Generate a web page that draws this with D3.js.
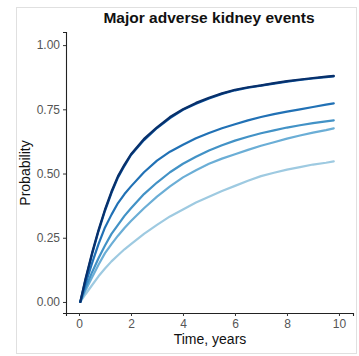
<!DOCTYPE html>
<html>
<head>
<meta charset="utf-8">
<script src="https://cdn.jsdelivr.net/npm/d3@7"></script>
<style>
  body { margin: 0; background: #fff; }
  svg { display: block; font-family: "Liberation Sans", Arial, sans-serif; }
</style>
</head>
<body>
<div id="chart"></div>
<script>
// time points, years
var times = [0.05, 0.25, 0.5, 0.75, 1, 1.25, 1.5, 1.75, 2, 2.5, 3, 3.5, 4, 4.5, 5, 5.5, 6, 6.5, 7, 7.5, 8, 8.5, 9, 9.5, 9.8];

// cumulative probability per group
var group1 = [0, 0.09, 0.19, 0.28, 0.36, 0.43, 0.49, 0.535, 0.575, 0.635, 0.68, 0.72, 0.75, 0.775, 0.795, 0.812, 0.826, 0.836, 0.843, 0.852, 0.86, 0.866, 0.872, 0.877, 0.88];
var group2 = [0, 0.085, 0.185, 0.275, 0.355, 0.425, 0.485, 0.53, 0.572, 0.63, 0.677, 0.716, 0.748, 0.772, 0.792, 0.81, 0.824, 0.834, 0.842, 0.85, 0.858, 0.864, 0.87, 0.875, 0.878];
var group3 = [0, 0.07, 0.15, 0.225, 0.29, 0.34, 0.385, 0.42, 0.45, 0.505, 0.55, 0.585, 0.612, 0.637, 0.658, 0.676, 0.692, 0.707, 0.72, 0.731, 0.741, 0.75, 0.759, 0.768, 0.773];
var group4 = [0, 0.055, 0.115, 0.17, 0.22, 0.265, 0.30, 0.335, 0.365, 0.42, 0.465, 0.505, 0.538, 0.565, 0.59, 0.61, 0.628, 0.643, 0.657, 0.668, 0.679, 0.688, 0.696, 0.703, 0.707];
var group5 = [0, 0.045, 0.095, 0.145, 0.19, 0.225, 0.258, 0.288, 0.315, 0.365, 0.41, 0.45, 0.485, 0.513, 0.538, 0.558, 0.575, 0.592, 0.608, 0.622, 0.636, 0.648, 0.659, 0.669, 0.676];
var group6 = [0, 0.03, 0.065, 0.1, 0.13, 0.158, 0.182, 0.205, 0.225, 0.265, 0.3, 0.333, 0.36, 0.387, 0.41, 0.432, 0.452, 0.472, 0.49, 0.503, 0.515, 0.525, 0.535, 0.542, 0.547];

var seriesList = [group6, group5, group4, group3, group2, group1];
var colors = ["#9ecae1", "#6baed6", "#4292c6", "#2171b5", "#08519c", "#08306b"];

var xTicks = [0, 2, 4, 6, 8, 10];
var yTicks = [0, 0.25, 0.5, 0.75, 1];

var W = 359, H = 356;

var svg = d3.select("#chart").append("svg")
  .attr("width", W)
  .attr("height", H);

// light frame around the figure
svg.append("rect")
  .attr("x", 16.5).attr("y", 7.5)
  .attr("width", 340).attr("height", 346)
  .attr("fill", "none")
  .attr("stroke", "#e0e0e0");

var x = d3.scaleLinear().domain([-0.5, 10.54]).range([66, 353]);
var y = d3.scaleLinear().domain([-0.043, 1.051]).range([313, 32]);

// axes
var xAxis = svg.append("g")
  .attr("transform", "translate(0,313)")
  .call(d3.axisBottom(x).tickValues(xTicks).tickSize(3).tickPadding(3).tickFormat(d3.format("d")));

var yAxis = svg.append("g")
  .attr("transform", "translate(66,0)")
  .call(d3.axisLeft(y).tickValues(yTicks).tickSize(3).tickPadding(3).tickFormat(d3.format(".2f")));

[xAxis, yAxis].forEach(function(a) {
  a.select(".domain").attr("stroke", "#222").attr("stroke-width", 1.1);
  a.selectAll(".tick line").attr("stroke", "#333");
  a.selectAll(".tick text")
    .attr("fill", "#555")
    .style("font-size", "12px")
    .style("font-family", "'Liberation Sans', Arial, sans-serif");
});

// lines
var line = d3.line()
  .x(function(d, i) { return x(times[i]); })
  .y(function(d) { return y(d); });

svg.append("g").selectAll("path")
  .data(seriesList)
  .enter()
  .append("path")
  .attr("d", line)
  .attr("fill", "none")
  .attr("stroke", function(d, i) { return colors[i]; })
  .attr("stroke-width", 2.2)
  .attr("stroke-linejoin", "round")
  .attr("stroke-linecap", "round");

// title and axis labels
svg.append("text")
  .attr("x", 209).attr("y", 23)
  .attr("text-anchor", "middle")
  .style("font-size", "15.5px")
  .style("font-weight", "bold")
  .attr("fill", "#111")
  .text("Major adverse kidney events");

svg.append("text")
  .attr("x", 210).attr("y", 344)
  .attr("text-anchor", "middle")
  .style("font-size", "14px")
  .attr("fill", "#111")
  .text("Time, years");

svg.append("text")
  .attr("transform", "translate(30,173) rotate(-90)")
  .attr("text-anchor", "middle")
  .style("font-size", "14px")
  .attr("fill", "#111")
  .text("Probability");
</script>
</body>
</html>
